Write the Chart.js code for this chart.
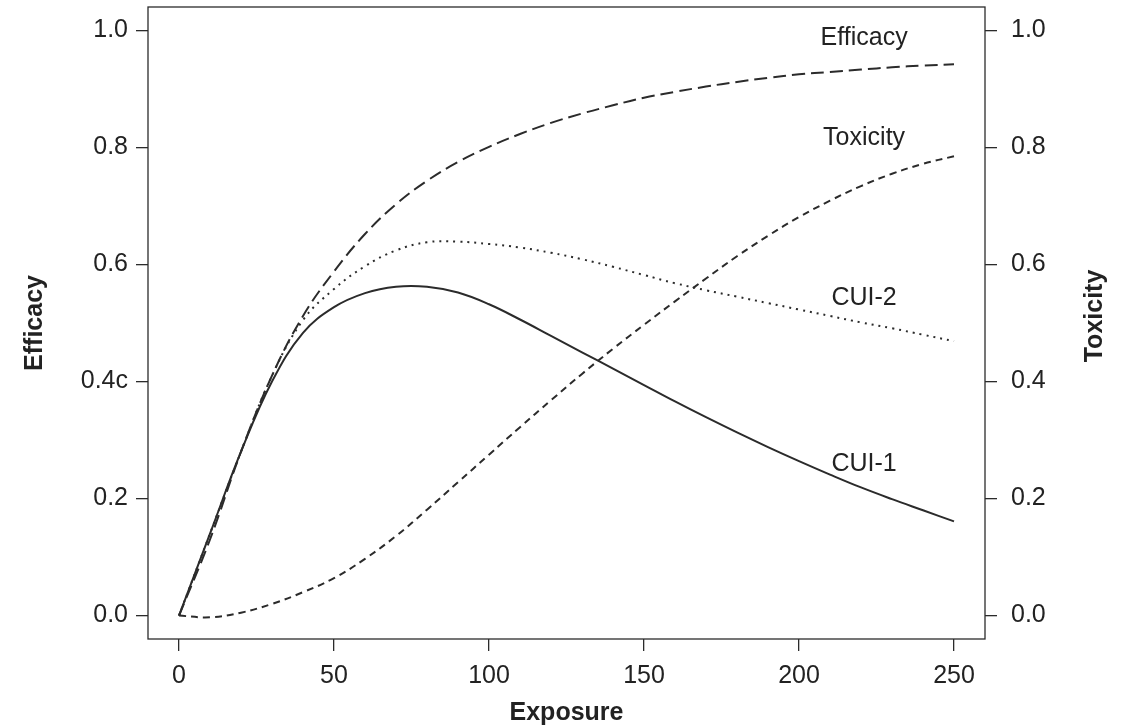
<!DOCTYPE html>
<html>
<head>
<meta charset="utf-8">
<script src="https://cdn.jsdelivr.net/npm/chart.js@4/dist/chart.umd.min.js"></script>
<style>
  html, body { margin: 0; padding: 0; background: #fff; }
  #wrap { width: 1123px; height: 728px; }
</style>
</head>
<body>
<div id="wrap"><canvas id="chart" width="1123" height="728"></canvas></div>
<script>
// exposure grid the curves were read at
const exposure = [0, 10, 20, 30, 40, 50, 60, 70, 80, 90, 100, 110, 120, 130, 140, 150, 160, 170, 180, 190, 200, 210, 220, 230, 240, 250]

const efficacy = [0, 0.13, 0.28, 0.41, 0.512, 0.588, 0.652, 0.703, 0.743, 0.775, 0.801, 0.823, 0.842, 0.858, 0.872, 0.885, 0.895, 0.904, 0.912, 0.919, 0.925, 0.929, 0.933, 0.937, 0.940, 0.942]
const toxicity = [0, -0.003, 0.005, 0.02, 0.04, 0.064, 0.097, 0.136, 0.181, 0.228, 0.275, 0.322, 0.368, 0.413, 0.456, 0.497, 0.537, 0.576, 0.614, 0.649, 0.681, 0.709, 0.734, 0.755, 0.772, 0.785]
const cui1 = [0, 0.14, 0.28, 0.40, 0.483, 0.527, 0.551, 0.562, 0.562, 0.552, 0.532, 0.506, 0.478, 0.450, 0.422, 0.394, 0.366, 0.339, 0.313, 0.288, 0.264, 0.241, 0.219, 0.199, 0.180, 0.161]
const cui2 = [0, 0.14, 0.28, 0.41, 0.505, 0.558, 0.597, 0.624, 0.638, 0.639, 0.635, 0.629, 0.620, 0.609, 0.596, 0.582, 0.568, 0.556, 0.545, 0.534, 0.523, 0.512, 0.501, 0.491, 0.480, 0.469]

const xTicks = [0, 50, 100, 150, 200, 250]
const yTicks = [0, 0.2, 0.4, 0.6, 0.8, 1.0]
const yLeftLabels = ['0.0', '0.2', '0.4c', '0.6', '0.8', '1.0']
const yRightLabels = ['0.0', '0.2', '0.4', '0.6', '0.8', '1.0']

// curve annotations (data coordinates)
const curveNames = ['Efficacy', 'Toxicity', 'CUI-2', 'CUI-1']
const curveNameX = [221, 221, 221, 221]
const curveNameY = [0.987, 0.816, 0.543, 0.259]

const ink = '#2b2b2b'
const fontFam = '"Liberation Sans", Arial, Helvetica, sans-serif'

function pts (ys) {
  return exposure.map((x, i) => ({ x: x, y: ys[i] }))
}

function line (label, ys, dash) {
  return {
    label: label,
    data: pts(ys),
    borderColor: ink,
    borderWidth: 2,
    borderDash: dash,
    pointRadius: 0,
    fill: false,
    tension: 0.4,
    yAxisID: 'y'
  }
}

function fixedTicks (values) {
  return function (scale) {
    scale.ticks = values.map(v => ({ value: v }))
  }
}

function fitWidth (w) {
  return function (s) {
    s.width = w
    s.paddingTop = 0
    s.paddingBottom = 0
  }
}

const tickFont = { family: fontFam, size: 25 }
const titleFont = { family: fontFam, size: 25, weight: 'bold' }
const gridOpts = { display: true, drawOnChartArea: false, drawTicks: true, tickLength: 12, color: ink, lineWidth: 1.3 }

// box around the plot, curve names, right-hand title
const extras = {
  id: 'extras',
  afterDraw: function (chart) {
    const ctx = chart.ctx
    const a = chart.chartArea
    const sx = chart.scales.x
    const sy = chart.scales.y
    ctx.save()
    ctx.strokeStyle = ink
    ctx.lineWidth = 1.3
    ctx.strokeRect(a.left, a.top, a.right - a.left, a.bottom - a.top)

    ctx.fillStyle = '#222'
    ctx.font = '25px ' + fontFam
    ctx.textAlign = 'center'
    ctx.textBaseline = 'middle'
    curveNames.forEach((n, i) => {
      ctx.fillText(n, sx.getPixelForValue(curveNameX[i]), sy.getPixelForValue(curveNameY[i]))
    })

    ctx.font = 'bold 25px ' + fontFam
    ctx.translate(a.right + 110, (a.top + a.bottom) / 2 - 7)
    ctx.rotate(-Math.PI / 2)
    ctx.fillText('Toxicity', 0, 0)
    ctx.restore()
  }
}

new Chart(document.getElementById('chart').getContext('2d'), {
  type: 'line',
  data: {
    datasets: [
      line('Efficacy', efficacy, [13, 6]),
      line('Toxicity', toxicity, [7, 5]),
      line('CUI-1', cui1, []),
      line('CUI-2', cui2, [2, 5])
    ]
  },
  options: {
    responsive: false,
    animation: false,
    layout: { padding: { top: 7, right: 0, left: 0, bottom: 0 } },
    plugins: { legend: { display: false }, tooltip: { enabled: false } },
    scales: {
      x: {
        type: 'linear',
        min: -10,
        max: 260,
        afterBuildTicks: fixedTicks(xTicks),
        afterFit: function (s) { s.height = 89 },
        border: { display: false },
        grid: gridOpts,
        ticks: { color: '#222', font: tickFont, padding: 10, maxRotation: 0 },
        title: { display: true, text: 'Exposure', color: '#222', font: titleFont, padding: { top: 0, bottom: 0 } }
      },
      y: {
        position: 'left',
        min: -0.04,
        max: 1.04,
        afterBuildTicks: fixedTicks(yTicks),
        afterFit: fitWidth(148),
        border: { display: false },
        grid: gridOpts,
        ticks: {
          color: '#222',
          font: tickFont,
          padding: 8,
          callback: function (v) { return yLeftLabels[yTicks.findIndex(t => Math.abs(t - v) < 1e-9)] }
        },
        title: { display: true, text: 'Efficacy', color: '#222', font: titleFont, padding: { top: 20, bottom: 0 } }
      },
      y2: {
        position: 'right',
        min: -0.04,
        max: 1.04,
        afterBuildTicks: fixedTicks(yTicks),
        afterFit: fitWidth(138),
        border: { display: false },
        grid: gridOpts,
        ticks: {
          color: '#222',
          font: tickFont,
          padding: 14,
          callback: function (v) { return yRightLabels[yTicks.findIndex(t => Math.abs(t - v) < 1e-9)] }
        }
      }
    }
  },
  plugins: [extras]
})
</script>
</body>
</html>
